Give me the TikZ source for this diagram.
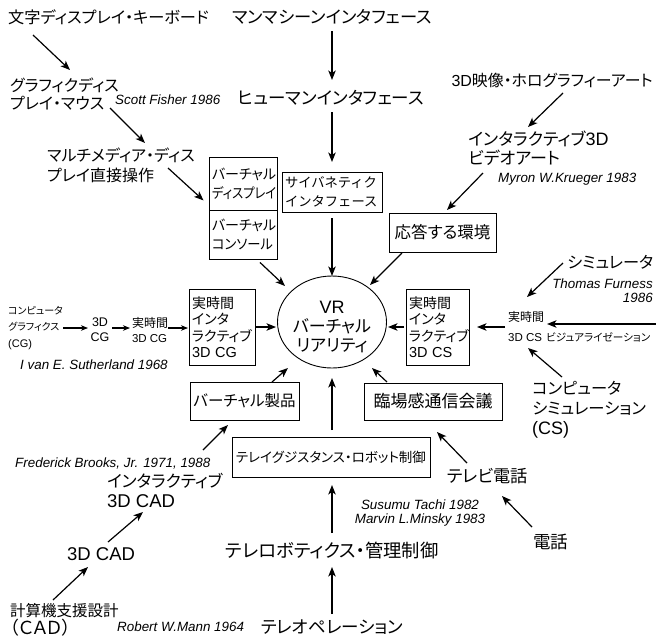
\documentclass[tikz,border=0pt]{standalone}
\usepackage{fontspec}
\usepackage{graphicx}
\setmainfont{Noto Sans CJK JP}
\newfontfamily\pj{Noto Sans CJK JP}[RawFeature={+palt}]
\newfontfamily\latf{Liberation Sans}
\usetikzlibrary{arrows.meta,shapes.geometric}
\newcommand\fsz[2]{\fontsize{#1}{#2}\selectfont}
\newcommand\pf[2]{\pj\fontsize{#1}{#2}\selectfont}
\newcommand\la[2]{{\latf\fontsize{#1}{#1}\selectfont #2}}
\begin{document}
\begin{tikzpicture}[x=1pt,y=-1pt,
  lbl/.style={inner sep=0pt, font=\pf{16}{19}, align=left},
  who/.style={inner sep=0pt, font=\latf\itshape\fsz{13.4}{14.5}},
  box/.style={draw, line width=0.9pt, inner sep=0pt, align=left},
  arr/.style={line width=1.2pt, -{Stealth[length=9.5pt,width=7.5pt,inset=2.5pt]}},
  sarr/.style={line width=1.1pt, -{Stealth[length=7pt,width=5.5pt,inset=2pt]}},
]
\useasboundingbox[fill=white] (0,0) rectangle (656,641);

% ---- top / centre column
\node[lbl, anchor=west, font=\pf{16.2}{19}] (t1) at (8,17) {文字ディスプレイ・キーボード};
\node[lbl, font=\pf{17.3}{19}] (t2) at (332,17) {マンマシーンインタフェース};
\node[lbl, font=\pf{17.5}{19}] (t3) at (331,98) {ヒューマンインタフェース};
\node[box, text width=94pt, inner xsep=3pt, minimum height=40pt, font=\fsz{13.3}{18.5}] (cyb) at (332,192) {サイバネティク\\インタフェース};
\node[box, text width=62pt, inner xsep=3pt, minimum height=53pt, font=\pf{14}{19}] (vd) at (243,183.5) {バーチャル\\\scalebox{0.88}[1]{ディスプレイ}};
\node[box, text width=62pt, inner xsep=3pt, minimum height=49pt, font=\pf{14}{19}] (vc) at (243,234.5) {バーチャル\\\scalebox{0.95}[1]{コンソール}};
\node[box, minimum width=107pt, minimum height=39pt, font=\pf{16.5}{19}, align=center] (resp) at (442.5,232.5) {応答する環境};
\node[draw, ellipse, line width=0.9pt, minimum width=109pt, minimum height=92pt, inner sep=0pt] (vr) at (332,322) {};
\node[inner sep=0pt, align=center, font=\pf{17}{19}] (vrt) at (332,327) {\la{18}{VR}\\バーチャル\\リアリティ};
\node[box, text width=60pt, inner xsep=3pt, minimum height=76pt, font=\pf{14}{16.5}] (rtcg) at (222,327) {実時間\\インタ\\ラクティブ\\\la{14.5}{3D CG}};
\node[box, text width=57pt, inner xsep=3pt, minimum height=76pt, font=\pf{14}{16.5}] (rtcs) at (437.5,327) {実時間\\インタ\\ラクティブ\\\la{14.5}{3D CS}};
\node[box, minimum width=109pt, minimum height=38pt, font=\pf{15.5}{19}, align=center] (prod) at (244.5,401) {バーチャル製品};
\node[box, minimum width=138pt, minimum height=37pt, font=\pf{17}{19}, align=center] (rinjo) at (433,401.5) {臨場感通信会議};
\node[box, minimum width=198pt, minimum height=40pt, font=\pf{13.5}{19}, align=center] (tele) at (331,457) {テレイグジスタンス・ロボット制御};
\node[lbl, font=\pf{18.3}{19}] (trob) at (332,550) {テレロボティクス・管理制御};
\node[lbl, font=\pf{17.5}{19}] (teop) at (332,627) {テレオペレーション};

% ---- left
\node[lbl, anchor=west, font=\pf{16}{18}] (gm) at (10,94) {グラフィクディス\\プレイ・マウス};
\node[who, anchor=west] (sf) at (115,100) {Scott Fisher 1986};
\node[lbl, anchor=west, font=\pf{16}{20}] (mm) at (47,165) {マルチメディア・ディス\\プレイ直接操作};
\node[lbl, anchor=west, font=\pf{10}{16.5}] (cg) at (8,328) {コンピュータ\\グラフィクス\\\la{11}{(CG)}};
\node[lbl, align=center, font=\latf\fsz{12.5}{15}] (cg3) at (100,330) {3D\\CG};
\node[lbl, font=\pf{12}{15}] (rt3) at (150,330) {実時間\\\la{11.5}{3D CG}};
\node[who, anchor=west] (ivan) at (20,365) {I van E. Sutherland 1968};

% ---- right
\node[lbl, anchor=east, font=\pf{15.9}{19}] (holo) at (653,80) {\la{16}{3D}映像・ホログラフィーアート};
\node[lbl, anchor=west, font=\pf{17}{19}] (ivid) at (468,148.5) {インタラクティブ\la{18}{3D}\\ビデオアート};
\node[who, anchor=west] (myron) at (498,179) {Myron W.Krueger 1983};
\node[lbl, anchor=west, font=\pf{16.2}{19}] (sim) at (567,262) {シミュレータ};
\node[who, anchor=east, align=right] (tf) at (653,290.5) {Thomas Furness\\1986};
\node[lbl, anchor=west, font=\pf{12}{20}] (rtcs3) at (508,327) {実時間\\\la{11.5}{3D CS}};
\node[lbl, anchor=west, font=\pf{10.6}{12}] (vis) at (546,337) {ビジュアライゼーション};
\coordinate (redge) at (656,324);
\node[lbl, anchor=west, font=\pf{16.3}{20}] (cs) at (532,410) {コンピュータ\\シミュレーション\\\la{18}{(CS)}};
\node[lbl, anchor=west, font=\pf{17.2}{19}] (tvp) at (447,476) {テレビ電話};
\node[lbl, anchor=west, font=\pf{17.5}{19}] (den) at (533,542) {電話};
\node[who, align=center] (sus) at (420,513) {Susumu Tachi 1982\\Marvin L.Minsky 1983};

% ---- bottom left
\node[who, anchor=west] (fb) at (15,463) {Frederick Brooks, Jr. 1971, 1988};
\node[lbl, anchor=west, font=\pf{16.7}{20}] (icad) at (107,490) {インタラクティブ\\\la{18.5}{3D CAD}};
\node[lbl, anchor=west, font=\latf\fsz{18.5}{19}] (cad3) at (67,554) {3D CAD};
\node[lbl, anchor=west, font=\pf{15.5}{16.5}] (cad) at (10,620) {計算機支援設計\\{\fsz{18}{16.5}（ＣＡＤ）}};
\node[who, anchor=west] (rm) at (117,627) {Robert W.Mann 1964};

% ---- connectors
\draw[arr] ([shift={(25,18)}]t1.west) -- ([shift={(60,-24)}]gm.west);
\draw[arr] ([shift={(100,14)}]gm.west) -- ([shift={(98,-22)}]mm.west);
\draw[arr] ([shift={(121,3)}]mm.west) -- ([shift={(-5,-10)}]vd.south west);
\draw[arr] ([shift={(17,3)}]vc.south) -- ([shift={(-47,-36)}]vr.center);
\draw[arr] ([shift={(0,14)}]t2.center) -- ([shift={(1,-18)}]t3.center);
\draw[arr] ([shift={(1,14)}]t3.center) -- ([shift={(0,-30)}]cyb.center);
\draw[arr] ([shift={(0,26)}]cyb.center) -- ([shift={(0,-46)}]vr.center);
\draw[arr] ([shift={(-90,13)}]holo.east) -- ([shift={(60,-21.5)}]ivid.west);
\draw[arr] ([shift={(15,24.5)}]ivid.west) -- ([shift={(4.5,-22.5)}]resp.center);
\draw[arr] ([shift={(-40.5,20.5)}]resp.center) -- ([shift={(38,-37)}]vr.center);
\draw[arr] ([shift={(-4,1)}]sim.west) -- ([shift={(19,-30)}]rtcs3.west);
\draw[arr] (redge) -- ([shift={(39,-3)}]rtcs3.west);
\draw[arr] ([shift={(-3,0)}]rtcs3.west) -- ([shift={(39.5,0)}]rtcs.center);
\draw[arr] ([shift={(-33.5,0)}]rtcs.center) -- ([shift={(56,5)}]vr.center);
\draw[arr] ([shift={(30,-33)}]cs.west) -- ([shift={(20,21)}]rtcs3.west);
\draw[arr] ([shift={(-46,-19.5)}]rinjo.center) -- ([shift={(40,46)}]vr.center);
\draw[arr] ([shift={(20,-13)}]tvp.west) -- ([shift={(4,30.5)}]rinjo.center);
\draw[arr] ([shift={(-1,-15)}]den.west) -- ([shift={(55,20)}]tvp.west);
\draw[arr] ([shift={(1,-27)}]tele.center) -- ([shift={(0,56)}]vr.center);
\draw[arr] ([shift={(0,-17)}]trob.center) -- ([shift={(1,28)}]tele.center);
\draw[arr] ([shift={(0,-13)}]teop.center) -- ([shift={(0,17)}]trob.center);
\draw[arr] ([shift={(27.5,-19)}]prod.center) -- ([shift={(-44,46)}]vr.center);
\draw[arr] ([shift={(96,-40)}]icad.west) -- ([shift={(-16.5,24)}]prod.center);
\draw[arr] ([shift={(41,-12)}]cad3.west) -- ([shift={(36,22)}]icad.west);
\draw[arr] ([shift={(43,-20)}]cad.west) -- ([shift={(21,13)}]cad3.west);
\draw[arr] ([shift={(33,0)}]rtcg.center) -- ([shift={(-56,5)}]vr.center);
\draw[sarr] ([shift={(18,-2)}]rt3.center) -- ([shift={(-34,1)}]rtcg.center);
\draw[sarr] ([shift={(12,-2)}]cg3.center) -- ([shift={(-20,-2)}]rt3.center);
\draw[sarr] ([shift={(55,0)}]cg.west) -- ([shift={(-12,-2)}]cg3.center);
\end{tikzpicture}
\end{document}
